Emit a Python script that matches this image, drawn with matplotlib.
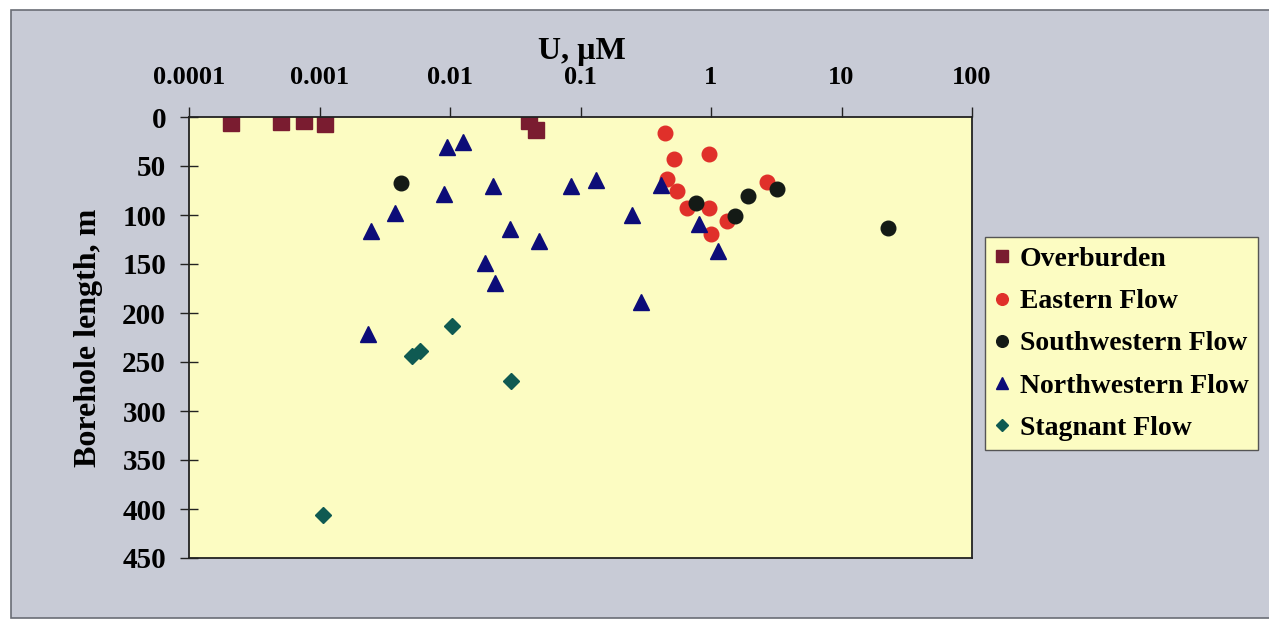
import numpy as np
import matplotlib
matplotlib.use("Agg")
import matplotlib.pyplot as plt
from matplotlib.patches import Rectangle
from matplotlib.ticker import FixedLocator, NullLocator

plt.rcParams['font.family'] = ['Liberation Serif', 'DejaVu Serif']
plt.rcParams['font.weight'] = 'bold'

# U concentration (uM) and borehole length (m)
overburden_u = [0.00021, 0.00051, 0.00076, 0.0011, 0.040, 0.046]
overburden_d = [6, 5, 4, 7, 4, 13]

eastern_u = [0.445, 0.52, 0.96, 0.46, 0.55, 0.65, 0.96, 1.0, 1.32, 2.69]
eastern_d = [16, 43, 38, 63, 76, 93, 93, 119, 106, 66]

southwestern_u = [0.0042, 0.77, 1.92, 1.54, 3.18, 22.9]
southwestern_d = [67, 88, 81, 101, 73, 113]

northwestern_u = [0.0095, 0.0126, 0.0215, 0.0090, 0.0038, 0.0025, 0.0288, 0.0484, 0.0186,
                  0.0223, 0.0853, 0.131, 0.414, 0.248, 0.81, 1.13, 0.00234, 0.291]
northwestern_d = [31, 26, 70, 79, 98, 116, 114, 127, 149,
                  169, 70, 64, 69, 100, 109, 137, 221, 189]

stagnant_u = [0.0103, 0.00514, 0.00589, 0.0293, 0.00107]
stagnant_d = [213, 244, 239, 269, 406]

x_ticks = [0.0001, 0.001, 0.01, 0.1, 1, 10, 100]
x_tick_labels = ['0.0001', '0.001', '0.01', '0.1', '1', '10', '100']
y_ticks = [0, 50, 100, 150, 200, 250, 300, 350, 400, 450]

W, H = 1269, 622
fig = plt.figure(figsize=(W / 100, H / 100), dpi=100)
fig.patch.set_facecolor('white')
fig.patches.append(Rectangle((11 / W, 4 / H), 1.0, 608 / H, transform=fig.transFigure,
                             facecolor='#c8cbd6', edgecolor='#6a6d75', linewidth=1.2, zorder=-10))

ax = fig.add_axes([189 / W, 1 - 558 / H, (972 - 189) / W, (558 - 117) / H])
ax.set_facecolor('#fcfcc2')

ax.plot(overburden_u, overburden_d, 's', color='#7a1c30', markersize=11, label='Overburden')
ax.plot(eastern_u, eastern_d, 'o', color='#e0302a', markersize=10.5, label='Eastern Flow')
ax.plot(southwestern_u, southwestern_d, 'o', color='#141a16', markersize=10.5, label='Southwestern Flow')
ax.plot(northwestern_u, northwestern_d, '^', color='#0c0c78', markersize=11, label='Northwestern Flow')
ax.plot(stagnant_u, stagnant_d, 'D', color='#0f5a52', markersize=8, label='Stagnant Flow')

ax.set_xscale('log')
ax.set_xlim(0.0001, 100)
ax.set_ylim(450, 0)

ax.xaxis.tick_top()
ax.xaxis.set_label_position('top')
ax.xaxis.set_major_locator(FixedLocator(x_ticks))
ax.xaxis.set_minor_locator(NullLocator())
ax.set_xticklabels(x_tick_labels)
ax.set_yticks(y_ticks)

ax.tick_params(axis='x', direction='out', length=7, width=1, pad=13, labelsize=19, colors='#222222')
ax.tick_params(axis='y', direction='inout', length=13, width=1, pad=10, labelsize=21, colors='#222222')
for lab in ax.get_xticklabels() + ax.get_yticklabels():
    lab.set_color('black')

for s in ax.spines.values():
    s.set_color('#222222')
    s.set_linewidth(1.3)

ax.set_xlabel('U, \u00b5M', fontsize=23, fontweight='bold')
ax.xaxis.set_label_coords(582 / W, 1 - 59 / H, transform=fig.transFigure)
ax.set_ylabel('Borehole length, m', fontsize=23, fontweight='bold', labelpad=14)

leg = ax.legend(loc='upper left', bbox_to_anchor=(985 / W, 1 - 237 / H), bbox_transform=fig.transFigure,
                borderaxespad=0, fontsize=20, frameon=True, fancybox=False, markerscale=0.8,
                handlelength=0.5, handletextpad=0.4, labelspacing=0.6, borderpad=0.35)
leg.get_frame().set_facecolor('#fcfcc2')
leg.get_frame().set_edgecolor('#555555')
leg.get_frame().set_linewidth(1.0)
leg.get_frame().set_alpha(1)

fig.savefig('out.png', dpi=100, facecolor=fig.get_facecolor())
